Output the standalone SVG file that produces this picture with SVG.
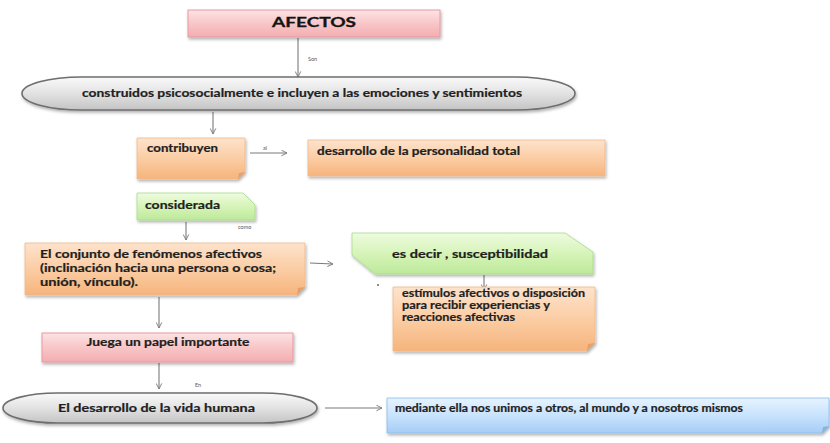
<svg xmlns="http://www.w3.org/2000/svg" width="830" height="443" viewBox="0 0 830 443">
<defs>
  <linearGradient id="gPink" x1="0" y1="0" x2="0" y2="1">
    <stop offset="0" stop-color="#fde3e4"/><stop offset="0.5" stop-color="#f8c6c8"/><stop offset="1" stop-color="#f3adb1"/>
  </linearGradient>
  <linearGradient id="gGray" x1="0" y1="0" x2="0" y2="1">
    <stop offset="0" stop-color="#fafafa"/><stop offset="0.5" stop-color="#e2e2e2"/><stop offset="1" stop-color="#c4c4c4"/>
  </linearGradient>
  <linearGradient id="gOrange" x1="0" y1="0" x2="0" y2="1">
    <stop offset="0" stop-color="#fde3cc"/><stop offset="0.5" stop-color="#fbcda4"/><stop offset="1" stop-color="#f6b47c"/>
  </linearGradient>
  <linearGradient id="gGreen" x1="0" y1="0" x2="0" y2="1">
    <stop offset="0" stop-color="#eefbe0"/><stop offset="0.5" stop-color="#d6f4b8"/><stop offset="1" stop-color="#bde99a"/>
  </linearGradient>
  <linearGradient id="gBlue" x1="0" y1="0" x2="0" y2="1">
    <stop offset="0" stop-color="#e6f3ff"/><stop offset="0.5" stop-color="#c8e3fc"/><stop offset="1" stop-color="#a5cdf6"/>
  </linearGradient>
  <filter id="sh" x="-10%" y="-20%" width="120%" height="150%">
    <feDropShadow dx="1" dy="2" stdDeviation="1.5" flood-color="#000" flood-opacity="0.3"/>
  </filter>
  <marker id="arr" viewBox="0 0 10 10" refX="9" refY="5" markerWidth="7" markerHeight="7" orient="auto" markerUnits="userSpaceOnUse">
    <path d="M1,1 L9,5 L1,9" fill="none" stroke="#7a7a7a" stroke-width="1.3"/>
  </marker>
</defs>
<style>
  text { font-family: Lato, "Liberation Sans", Arial, sans-serif; font-weight: bold; fill: #1f1f1f; }
  .t { font-size: 10.5px; stroke: #1f1f1f; stroke-width: 0.2px; }
  .big { font-size: 13.5px; fill: #141414; stroke: #141414; stroke-width: 0.3px; }
  .lbl { font-size: 5.5px; fill: #555; font-weight: normal; }
  .pink { fill: url(#gPink); stroke: #e79aa0; stroke-width: 1; filter: url(#sh); }
  .gray { fill: url(#gGray); stroke: #6e6e6e; stroke-width: 1.6; filter: url(#sh); }
  .orange { fill: url(#gOrange); stroke: #f0b88a; stroke-width: 0.8; filter: url(#sh); }
  .green { fill: url(#gGreen); stroke: #a8dc88; stroke-width: 0.8; filter: url(#sh); }
  .blue { fill: url(#gBlue); stroke: #8cbde8; stroke-width: 0.8; filter: url(#sh); }
  .fold { fill: #d9905a; opacity: 0.6; }
  .foldb { fill: #6e9cc8; opacity: 0.6; }
  .conn line { stroke: #7a7a7a; stroke-width: 1.1; marker-end: url(#arr); }
</style>

<g id="connectors" class="conn">
  <line x1="298" y1="38" x2="298" y2="77"/>
  <line x1="213" y1="112" x2="213" y2="134"/>
  <line x1="250" y1="153" x2="287" y2="153"/>
  <line x1="186" y1="222" x2="186" y2="240"/>
  <line x1="310" y1="263" x2="333" y2="264"/>
  <line x1="484" y1="275" x2="484" y2="290"/>
  <line x1="159" y1="297" x2="159" y2="328"/>
  <line x1="159" y1="363" x2="159" y2="389"/>
  <line x1="325" y1="408" x2="382" y2="408"/>
</g>
<g id="labels">
  <text class="lbl" x="308" y="61">Son</text>
  <text class="lbl" x="263" y="150">al</text>
  <text class="lbl" x="238" y="229">como</text>
  <text class="lbl" x="195" y="387">En</text>
  <circle cx="378" cy="285" r="1" fill="#666"/>
</g>

<g id="afectos">
  <rect class="pink" x="188" y="10" width="252" height="27"/>
  <text class="big" x="314" y="27" text-anchor="middle" textLength="84" lengthAdjust="spacingAndGlyphs">AFECTOS</text>
</g>

<g id="construidos">
  <rect class="gray" x="22" y="77" width="553" height="33" rx="60" ry="16.5"/>
  <text class="t" x="82" y="97" textLength="440" lengthAdjust="spacingAndGlyphs">construidos psicosocialmente e incluyen a las emociones y sentimientos</text>
</g>

<g id="contribuyen">
  <path class="orange" d="M137,138 H245 V172 L238,179 H137 Z"/>
  <path class="fold" d="M245,172 L238,179 L239,173 Z"/>
  <text class="t" x="147" y="152" textLength="71" lengthAdjust="spacingAndGlyphs">contribuyen</text>
</g>

<g id="personalidad">
  <rect class="orange" x="308" y="140" width="297" height="36"/>
  <text class="t" x="317" y="155" textLength="203" lengthAdjust="spacingAndGlyphs">desarrollo de la personalidad total</text>
</g>

<g id="considerada">
  <path class="green" d="M137,193 H243 L255,205 V220 H137 Z"/>
  <text class="t" x="145" y="209" textLength="75" lengthAdjust="spacingAndGlyphs">considerada</text>
</g>

<g id="conjunto">
  <path class="orange" d="M25,243 H305 V287 L297,295 H25 Z"/>
  <path class="fold" d="M305,287 L297,295 L298,288 Z"/>
  <text class="t" x="40" y="258" textLength="222" lengthAdjust="spacingAndGlyphs">El  conjunto de fenómenos afectivos</text>
  <text class="t" x="40" y="272" textLength="236" lengthAdjust="spacingAndGlyphs">(inclinación hacia una persona o cosa;</text>
  <text class="t" x="40" y="286" textLength="98" lengthAdjust="spacingAndGlyphs">unión, vínculo).</text>
</g>

<g id="esdecir">
  <path class="green" d="M352,233 H565 L593,252 V274 H375 L352,255 Z"/>
  <text class="t" x="392" y="258" textLength="156" lengthAdjust="spacingAndGlyphs">es decir , susceptibilidad</text>
</g>

<g id="estimulos">
  <path class="orange" d="M393,287 H595 V343 L587,351 H393 Z"/>
  <path class="fold" d="M595,343 L587,351 L588,344 Z"/>
  <text class="t" x="402" y="297" textLength="183" lengthAdjust="spacingAndGlyphs">estímulos afectivos o disposición</text>
  <text class="t" x="402" y="309" textLength="148" lengthAdjust="spacingAndGlyphs">para recibir experiencias y</text>
  <text class="t" x="402" y="321" textLength="113" lengthAdjust="spacingAndGlyphs">reacciones afectivas</text>
</g>

<g id="juega">
  <rect class="pink" x="42" y="333" width="251" height="29"/>
  <text class="t" x="168" y="346" text-anchor="middle" textLength="163" lengthAdjust="spacingAndGlyphs">Juega un papel importante</text>
</g>

<g id="vida">
  <rect class="gray" x="3" y="393" width="314" height="30" rx="55" ry="15"/>
  <text class="t" x="58" y="412" textLength="197" lengthAdjust="spacingAndGlyphs">El desarrollo de la vida humana</text>
</g>

<g id="mediante">
  <path class="blue" d="M387,398 H829 V426 L822,433 H387 Z"/>
  <path class="foldb" d="M829,426 L822,433 L823,427 Z"/>
  <text class="t" x="395" y="412" textLength="348" lengthAdjust="spacingAndGlyphs">mediante ella nos unimos a otros, al mundo y a nosotros mismos</text>
</g>
</svg>
